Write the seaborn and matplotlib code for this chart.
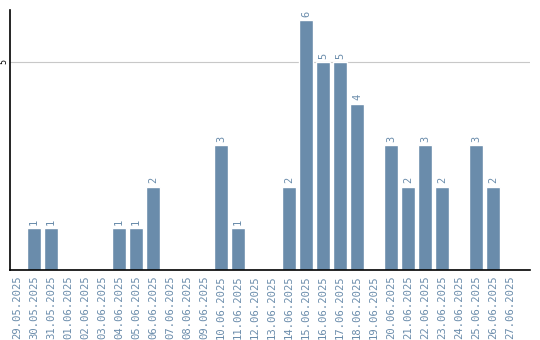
import matplotlib
matplotlib.use("Agg")
import matplotlib.pyplot as plt
import seaborn as sns
import pandas as pd

dates = ["29.05.2025", "30.05.2025", "31.05.2025", "01.06.2025", "02.06.2025",
         "03.06.2025", "04.06.2025", "05.06.2025", "06.06.2025", "07.06.2025",
         "08.06.2025", "09.06.2025", "10.06.2025", "11.06.2025", "12.06.2025",
         "13.06.2025", "14.06.2025", "15.06.2025", "16.06.2025", "17.06.2025",
         "18.06.2025", "19.06.2025", "20.06.2025", "21.06.2025", "22.06.2025",
         "23.06.2025", "24.06.2025", "25.06.2025", "26.06.2025", "27.06.2025"]
counts = [0, 1, 1, 0, 0, 0, 1, 1, 2, 0, 0, 0, 3, 1, 0, 0, 2, 6, 5, 5, 4, 0,
          3, 2, 3, 2, 0, 3, 2, 0]
yticks = [5]

color = "#6a8cab"
df = pd.DataFrame({"date": dates, "count": counts})

sns.set_style("white")
fig = plt.figure(figsize=(5.4, 3.4), dpi=100)
ax = fig.add_axes([10 / 540, 70 / 340, 520 / 540, 260 / 340])
sns.barplot(data=df, x="date", y="count", color=color, saturation=1,
            width=0.82, ax=ax, order=dates)

for i, v in enumerate(counts):
    if v > 0:
        ax.text(i, v + 0.08, str(v), rotation=90, ha="center", va="bottom",
                fontsize=7.5, color=color, family="DejaVu Sans Mono")

ax.set_xlim(-0.41, 30.18)
ax.set_ylim(0, 6.25)
ax.set_yticks(yticks)
ax.set_yticklabels([str(t) for t in yticks], rotation=90, va="center",
                   fontsize=6, color="black", family="DejaVu Sans Mono")
ax.yaxis.grid(True, color="#c8c8c8", linewidth=0.8)
ax.set_axisbelow(True)
ax.set_xticks(range(len(dates)))
ax.set_xticklabels(dates, rotation=90, fontsize=7.6, color=color,
                   family="DejaVu Sans Mono")
ax.tick_params(axis="x", length=0, pad=4)
ax.tick_params(axis="y", length=0, pad=1)
ax.set_xlabel("")
ax.set_ylabel("")
for s in ["top", "right"]:
    ax.spines[s].set_visible(False)
for s in ["left", "bottom"]:
    ax.spines[s].set_color("black")
    ax.spines[s].set_linewidth(1.2)

fig.savefig("out.png", dpi=100)
